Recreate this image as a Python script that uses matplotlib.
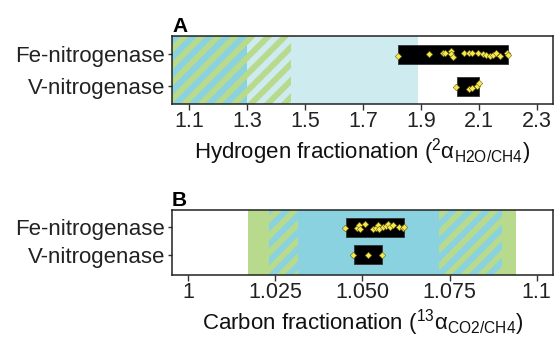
import matplotlib
matplotlib.use("Agg")
import matplotlib.pyplot as plt
from matplotlib.patches import Polygon
from matplotlib.collections import PatchCollection
from matplotlib.transforms import IdentityTransform

plt.rcParams["font.family"] = ["Liberation Sans", "DejaVu Sans"]
plt.rcParams["mathtext.fontset"] = "custom"
plt.rcParams["mathtext.rm"] = "Liberation Sans"
plt.rcParams["mathtext.it"] = "Liberation Sans:italic"

# --- data ---
enzymes = ["V-nitrogenase", "Fe-nitrogenase"]

# panel A: hydrogen fractionation
h_box_lo = [2.023, 1.82]
h_box_hi = [2.10, 2.20]
fe_h = [1.820, 1.929, 1.975, 1.983, 2.002, 2.004, 2.009, 2.048, 2.067, 2.075,
        2.098, 2.113, 2.124, 2.138, 2.149, 2.159, 2.172, 2.195, 2.201]
fe_h_jit = [-0.04, 0.0, 0.06, 0.04, 0.1, 0.0, -0.08, 0.04, 0.06, 0.06,
            0.06, 0.02, -0.02, -0.06, -0.03, 0.04, -0.06, 0.04, -0.01]
v_h = [2.021, 2.067, 2.077, 2.092, 2.101]
v_h_jit = [-0.02, -0.07, -0.05, 0.01, 0.1]

# panel B: carbon fractionation
c_box_lo = [1.0476, 1.0453]
c_box_hi = [1.0555, 1.0619]
fe_c = [1.0450, 1.0485, 1.0491, 1.0493, 1.0507, 1.0531, 1.0539, 1.0545, 1.0548,
        1.0558, 1.0567, 1.0574, 1.0579, 1.0588, 1.0606, 1.0615, 1.0620]
fe_c_jit = [-0.02, -0.03, 0.07, -0.06, 0.11, -0.08, -0.02, 0.07, -0.06,
            0.01, 0.03, 0.1, 0.01, 0.07, 0.01, -0.03, 0.01]
v_c = [1.0474, 1.0515, 1.0555]
v_c_jit = [0.0, 0.0, 0.0]

h_ticks = [1.1, 1.3, 1.5, 1.7, 1.9, 2.1, 2.3]
c_ticks = [1.0, 1.025, 1.05, 1.075, 1.1]
c_ticklabels = ["1", "1.025", "1.050", "1.075", "1.1"]

BLUE = "#8AD2DF"
GREEN = "#B7DA8C"
LIGHT = "#CEEBF0"
DOT = "#F7E84A"

W_PX, H_PX = 554, 338
fig = plt.figure(figsize=(W_PX / 100, H_PX / 100), dpi=100)
axA = fig.add_axes([172 / 554, 1 - 104 / 338, 381 / 554, 68 / 338])
axB = fig.add_axes([172 / 554, 1 - 275 / 338, 381 / 554, 65 / 338])


def striped_span(ax, x0, x1, base, stripe=GREEN, period=16.7, width=8.3):
    """Base colour span with 45-degree stripes drawn on top (pixel space)."""
    span = ax.axvspan(x0, x1, facecolor=base, linewidth=0, zorder=0)
    polys = []
    k = -H_PX
    while k < W_PX + H_PX:
        polys.append(Polygon([(k, 0), (k + width, 0), (k + width + H_PX, H_PX),
                              (k + H_PX, H_PX)], closed=True))
        k += period
    pc = PatchCollection(polys, facecolor=stripe, edgecolor="none",
                         transform=IdentityTransform(), zorder=0.5)
    ax.add_collection(pc, autolim=False)
    pc.set_clip_path(span)


def style(ax):
    for s in ax.spines.values():
        s.set_color("#222222")
        s.set_linewidth(1.1)
    ax.tick_params(axis="x", length=4, width=1, color="#333333", labelsize=15.5,
                   labelcolor="#222222", pad=1)
    ax.tick_params(axis="y", length=3, width=1, color="#333333", labelsize=16,
                   labelcolor="#222222", pad=2)


def draw_points(ax, xs, jit, yc):
    ax.scatter(xs, [yc + j for j in jit], marker="D", s=11, facecolor=DOT,
               edgecolor="#6b6520", linewidth=0.4, zorder=4)


# ---- panel A ----
axA.set_xlim(1.041, 2.355)
axA.set_ylim(-0.547, 1.578)
striped_span(axA, 1.041, 1.30, BLUE)
striped_span(axA, 1.30, 1.45, LIGHT)
axA.axvspan(1.45, 1.89, facecolor=LIGHT, linewidth=0, zorder=0)
for i in range(2):
    axA.barh(i, h_box_hi[i] - h_box_lo[i], left=h_box_lo[i], height=0.6,
             color="black", edgecolor="#333333", linewidth=0.6, zorder=3)
draw_points(axA, fe_h, fe_h_jit, 1)
draw_points(axA, v_h, v_h_jit, 0)
axA.set_xlim(1.041, 2.355)
axA.set_ylim(-0.547, 1.578)
axA.set_xticks(h_ticks)
axA.set_xticklabels([f"{t:.1f}" for t in h_ticks])
axA.set_yticks([0, 1])
axA.set_yticklabels(enzymes)
axA.set_xlabel(r"Hydrogen fractionation ($^{2}$α$_{\mathrm{H2O/CH4}}$)", fontsize=16,
               color="#111111", labelpad=3)
style(axA)
axA.set_title("A", loc="left", fontsize=15, fontweight="bold", pad=3, x=0.0)

# ---- panel B ----
axB.set_xlim(0.9953, 1.1047)
axB.set_ylim(-0.75, 1.63)
axB.axvspan(1.017, 1.0232, facecolor=GREEN, linewidth=0, zorder=0)
striped_span(axB, 1.0232, 1.0314, BLUE)
axB.axvspan(1.0314, 1.072, facecolor=BLUE, linewidth=0, zorder=0)
striped_span(axB, 1.072, 1.090, BLUE)
axB.axvspan(1.090, 1.094, facecolor=GREEN, linewidth=0, zorder=0)
for i in range(2):
    axB.barh(i, c_box_hi[i] - c_box_lo[i], left=c_box_lo[i], height=0.7,
             color="black", edgecolor="#333333", linewidth=0.6, zorder=3)
draw_points(axB, fe_c, fe_c_jit, 1)
draw_points(axB, v_c, v_c_jit, 0)
axB.set_xlim(0.9953, 1.1047)
axB.set_ylim(-0.75, 1.63)
axB.set_xticks(c_ticks)
axB.set_xticklabels(c_ticklabels)
axB.set_yticks([0, 1])
axB.set_yticklabels(enzymes)
axB.set_xlabel(r"Carbon fractionation ($^{13}$α$_{\mathrm{CO2/CH4}}$)", fontsize=16,
               color="#111111", labelpad=3)
style(axB)
axB.set_title("B", loc="left", fontsize=15, fontweight="bold", pad=2, x=0.0)

fig.savefig("out.png", dpi=100)
